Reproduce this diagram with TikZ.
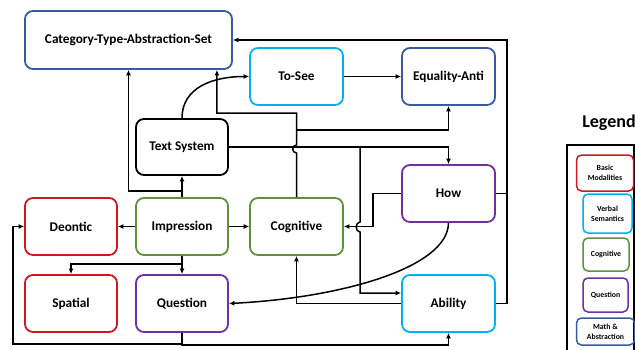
\documentclass[tikz,border=0pt]{standalone}
\usepackage{fontspec}
\setmainfont{Carlito}
\usetikzlibrary{arrows.meta,calc}
\definecolor{cred}{RGB}{205,25,30}
\definecolor{ccyan}{RGB}{0,176,240}
\definecolor{cgreen}{RGB}{95,145,60}
\definecolor{cpurple}{RGB}{112,48,160}
\definecolor{cblue}{RGB}{55,90,160}
\begin{document}
\begin{tikzpicture}[x=1pt,y=-1pt,
  box/.style={draw, rounded corners=8pt, line width=1.8pt, minimum width=92pt, minimum height=57pt,
    font=\bfseries\fontsize{13.3}{15}\selectfont, align=center, fill=white, inner sep=1pt},
  arr/.style={line width=1.5pt, -{Latex[length=5.5pt,width=5pt]}},
  ln/.style={line width=1.5pt},
  leg/.style={draw, rounded corners=5pt, line width=1.5pt, font=\bfseries\fontsize{7.8}{10}\selectfont,
    align=center, inner sep=0pt}]
\useasboundingbox (0,0) rectangle (635,349);

% nodes
\node[box,draw=cblue,minimum width=207pt,minimum height=58pt] (cat) at (128.5,40) {Category-Type-Abstraction-Set};
\node[box,draw=ccyan,minimum width=93pt] (tosee) at (296.5,76.5) {To-See};
\node[box,draw=cblue,minimum width=93pt] (eq) at (448.5,76.5) {Equality-Anti};
\node[box,draw=black,minimum height=56pt] (ts) at (182,147) {Text System};
\node[box,draw=cpurple,minimum width=93pt] (how) at (448.5,193.5) {How};
\node[box,draw=cred] (dtc) at (71,226.5) {Deontic};
\node[box,draw=cgreen] (imp) at (182,226.5) {Impression};
\node[box,draw=cgreen,minimum width=93pt] (cog) at (296.5,226.5) {Cognitive};
\node[box,draw=cred] (spa) at (71,303.5) {Spatial};
\node[box,draw=cpurple] (qst) at (182,303.5) {Question};
\node[box,draw=ccyan,minimum width=93pt] (abl) at (448.5,303.5) {Ability};

% connectors
\draw[arr] (imp.north) -- (ts.south);
\draw[arr] (imp.north) -- ++(0,-6) -| (cat.south);
\draw[arr] (ts.north) .. controls (182,88) and (212,76.5) .. (tosee.west);
\draw[arr] (tosee.east) -- (eq.west);
\draw[arr] (cog.north) -- (296.5,153) .. controls (291.5,153) and (291.5,145) .. (296.5,145)
  -- (296.5,113) -| ([xshift=-16pt]cat.south east);
\draw[arr] (296.5,130) -| (eq.south);
\draw[arr] (ts.east) -| (how.north);
\draw[arr] (360,147) -- (360,222) .. controls (355,222) and (355,232) .. (360,232)
  |- ([yshift=10.5pt]abl.west);
\draw[arr] (how.west) -- (373,193.5) |- (cog.east);
\draw[arr] (how.south) .. controls (448,268) and (340,298) .. (qst.east);
\draw[ln] (how.east) -- (507,193.5);
\draw[arr] (abl.east) -- (507,303.5) |- (cat.east);
\draw[arr] (abl.west) -| (cog.south);
\draw[arr] (qst.south) |- (13,344) |- (dtc.west);
\draw[arr] (qst.south) -- ++(0,12) -| (abl.south);
\draw[arr] (imp.south) -- (qst.north);
\draw[arr] (imp.south) -- ++(0,8) -| (spa.north);
\draw[arr] (imp.west) -- (dtc.east);
\draw[arr] (imp.east) -- (cog.west);

% legend
\node[font=\bfseries\fontsize{18}{20}\selectfont] (lgt) at (609,123) {Legend};
\draw[line width=1.2pt] (567,145) rectangle (634,365);
\node[leg,draw=cred,minimum width=57pt,minimum height=36pt] (l1) at (605,173) {Basic\\Modalities};
\node[leg,draw=ccyan,minimum width=49pt,minimum height=39pt] (l2) at (607.5,213.5) {Verbal\\Semantics};
\node[leg,draw=cgreen,minimum width=46pt,minimum height=33pt] (l3) at (606,254.5) {Cognitive};
\node[leg,draw=cpurple,minimum width=45pt,minimum height=34pt] (l4) at (605.5,295) {Question};
\node[leg,draw=cblue,minimum width=58pt,minimum height=27pt] (l5) at (605.5,331.5) {Math \&\\Abstraction};
\end{tikzpicture}
\end{document}
